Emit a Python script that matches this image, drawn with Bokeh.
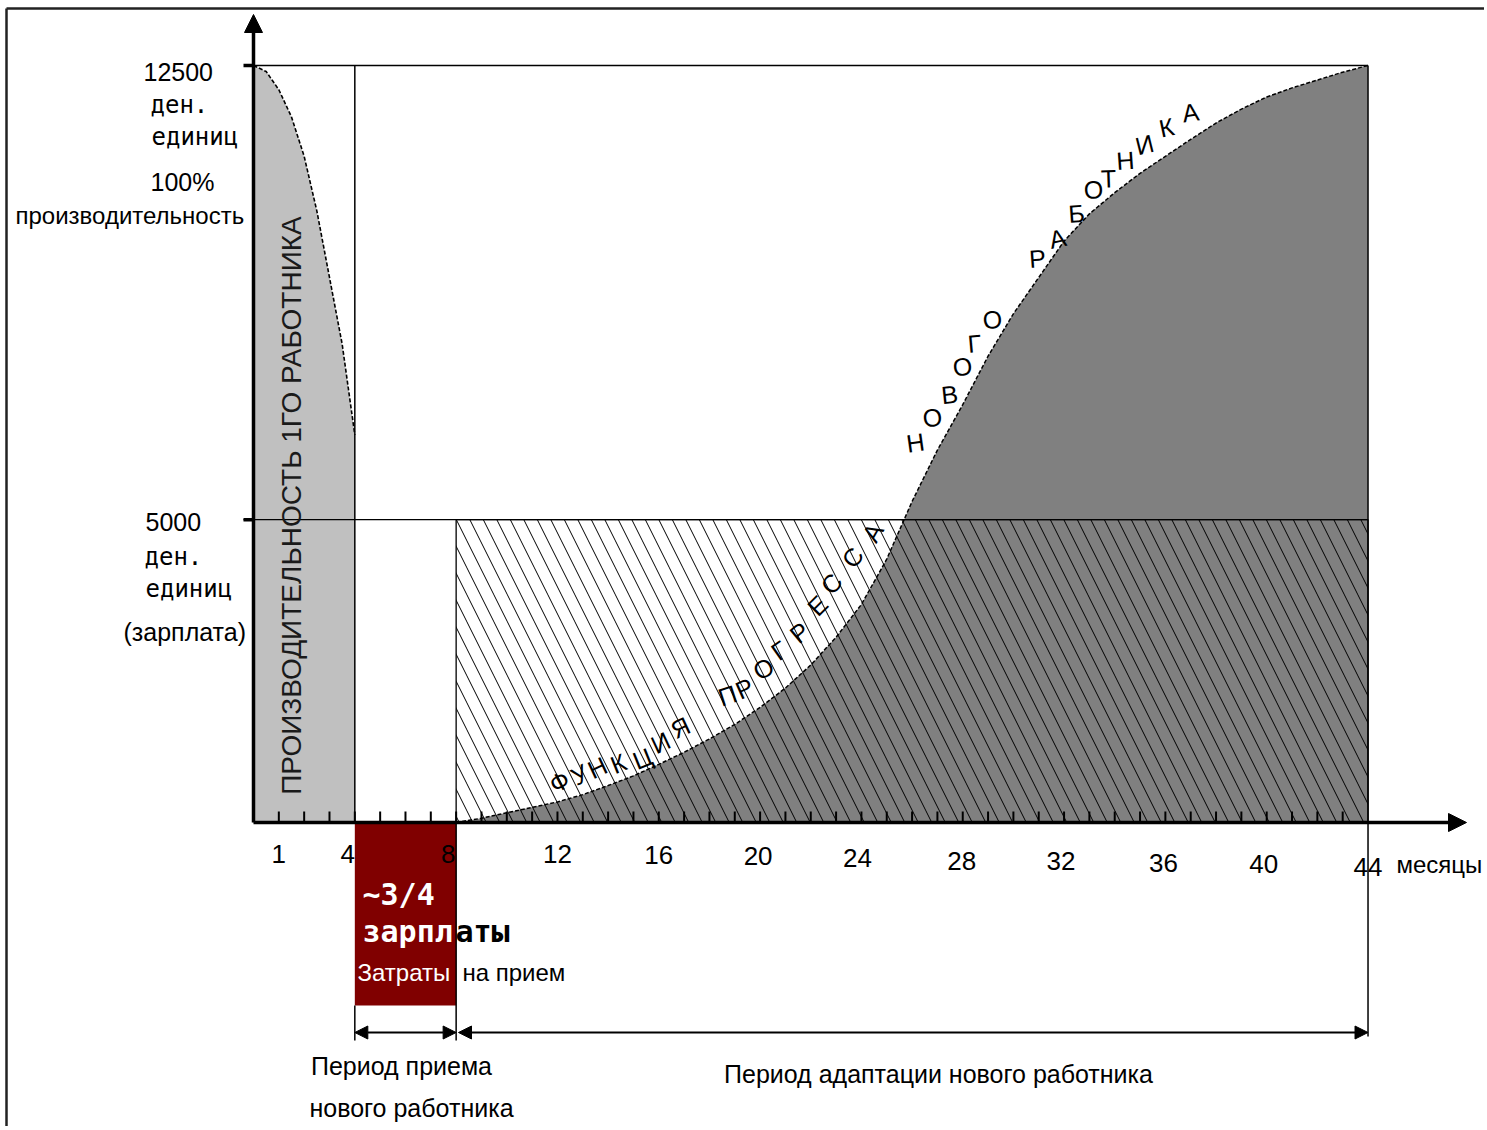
import math
from bokeh.plotting import figure
from bokeh.models import Range1d, Arrow, NormalHead, ColumnDataSource
from bokeh.core.properties import value
from bokeh.embed import file_html
from bokeh.resources import INLINE

# ---------------- data ----------------
SALARY = 5000          # salary level, money units
FULL = 12500           # 100% productivity, money units
first_months = [0, 0.5, 1, 1.5, 2, 2.5, 3, 3.5, 4]
first_output = [12500, 12400, 12100, 11650, 11000, 10100, 9000, 7900, 6400]
new_months = list(range(8, 45))
new_output = [0, 70, 160, 250, 340, 460, 610, 770, 960, 1160, 1380, 1620, 1900,
              2220, 2600, 3060, 3600, 4350, 5300, 6150, 6900, 7700, 8400, 9000,
              9600, 10050, 10400, 10720, 11000, 11280, 11550, 11780, 11980,
              12130, 12260, 12390, 12500]
tick_months = [1, 4, 8, 12, 16, 20, 24, 28, 32, 36, 40, 44]
tick_labels = ["1", "4", "8", "12", "16", "20", "24", "28", "32", "36", "40", "44"]
minor_ticks = list(range(1, 44))
HIRE_START, HIRE_END = 4, 8
ADAPT_START, ADAPT_END = 8, 44
LEVELS = [SALARY, FULL]

# ---------------- layout helpers (reference pixels -> data) ----------------
X0, XS = 253.0, 25.33
Y0, YS = 822.0, 0.06056
def X(px):
    return (px - X0) / XS
def Y(py):
    return (Y0 - py) / YS

W, H = 1484, 1126
SANS = "Liberation Sans"
MONO = "DejaVu Sans Mono"
BASE_FIX = 9   # renderer draws alphabetic baselines a little low

p = figure(width=W, height=H, output_backend="svg", toolbar_location=None,
           x_range=Range1d(X(0), X(W)), y_range=Range1d(Y(H), Y(0)),
           min_border=0, x_axis_location=None, y_axis_location=None)
p.grid.visible = False
p.outline_line_color = None
p.background_fill_color = "white"
p.border_fill_color = "white"

# frame (left and top)
p.line([X(6), X(6)], [Y(H), Y(8)], line_color="#222222", line_width=2.5)
p.line([X(6), X(W)], [Y(8), Y(8)], line_color="#222222", line_width=2.5)

# first worker productivity
p.patch([0] + first_months + [HIRE_START], [0] + first_output + [0],
        fill_color="#c0c0c0", line_color=None)
p.line(first_months, first_output, line_color="black", line_width=1.6, line_dash="4 2")

# new worker progress (dark area) and salary hatch
p.varea(x=new_months, y1=[0] * len(new_months), y2=new_output, fill_color="#808080")
p.quad(left=[ADAPT_START], right=[ADAPT_END], bottom=[0], top=[SALARY],
       fill_color=None, hatch_pattern="\\", hatch_color="black", hatch_scale=27,
       hatch_weight=1, line_color="black", line_width=1.3)
p.line(new_months, new_output, line_color="black", line_width=1.5, line_dash="4 2")

# reference lines
p.line([0, ADAPT_END], [FULL, FULL], line_color="black", line_width=1.3)
p.line([X(243), ADAPT_END], [SALARY, SALARY], line_color="black", line_width=1.3)
p.line([HIRE_START, HIRE_START], [0, FULL], line_color="black", line_width=1.5)
p.line([ADAPT_END, ADAPT_END], [Y(1036), FULL], line_color="black", line_width=1.5)

# hiring cost box
p.quad(left=[HIRE_START], right=[HIRE_END], top=[0], bottom=[Y(1005)],
       fill_color="#800000", line_color=None)
p.line([HIRE_END, HIRE_END], [Y(1040), 0], line_color="black", line_width=1.5)
p.line([HIRE_START, HIRE_START], [Y(1040), Y(1005)], line_color="black", line_width=1.5)

# axes
p.segment(x0=minor_ticks, y0=[0] * len(minor_ticks), x1=minor_ticks,
          y1=[Y(811)] * len(minor_ticks), line_color="black", line_width=2)
p.segment(x0=[X(243)] * 2, y0=LEVELS, x1=[0] * 2, y1=LEVELS, line_color="black", line_width=3.5)
p.add_layout(Arrow(end=NormalHead(size=18, fill_color="black", line_color="black"),
                   x_start=0, y_start=0, x_end=0, y_end=Y(14),
                   line_color="black", line_width=3.5))
p.add_layout(Arrow(end=NormalHead(size=18, fill_color="black", line_color="black"),
                   x_start=0, y_start=0, x_end=X(1466), y_end=0,
                   line_color="black", line_width=3.5))

# period arrows
yarr = Y(1032)
p.add_layout(Arrow(start=NormalHead(size=13, fill_color="black", line_color="black"),
                   end=NormalHead(size=13, fill_color="black", line_color="black"),
                   x_start=HIRE_START, y_start=yarr, x_end=HIRE_END, y_end=yarr,
                   line_color="black", line_width=2))
p.add_layout(Arrow(start=NormalHead(size=13, fill_color="black", line_color="black"),
                   end=NormalHead(size=13, fill_color="black", line_color="black"),
                   x_start=X(458), y_start=yarr, x_end=ADAPT_END, y_end=yarr,
                   line_color="black", line_width=2))

def txt(s, px, py, font=SANS, size=25, align="left", baseline="alphabetic",
        color="black", style="normal", angle=0):
    if baseline == "alphabetic":
        py -= BASE_FIX
    p.text(x=[X(px)], y=[Y(py)], text=[s], text_font=value(font),
           text_font_size=f"{size}px", text_align=align, text_baseline=baseline,
           text_color=color, text_font_style=style, angle=angle)

# x tick labels
lab_dx = [0, -7, -8, 0, 0, -2, -4, -1, -3, -2, -3, 0]
lab_base = [862, 862, 862, 862, 863, 864, 866, 869, 869, 871, 872, 875]
p.text(x=[m + d / XS for m, d in zip(tick_months, lab_dx)],
       y=[Y(b - BASE_FIX) for b in lab_base],
       text=tick_labels, text_font=value(SANS), text_font_size="26px",
       text_align="center", text_baseline="alphabetic", text_color="black")
txt("месяцы", 1396, 873, size=24)

# y labels
txt("12500", 143, 80)
txt("ден.", 150, 113, font=MONO, size=24)
txt("единиц", 151, 145, font=MONO, size=24)
txt("100%", 150, 190)
txt("производительность", 15, 224, size=24)
txt("5000", 145, 530)
txt("ден.", 144, 565, font=MONO, size=24)
txt("единиц", 145, 597, font=MONO, size=24)
txt("(зарплата)", 123, 640)

# box texts
txt("~3/4", 362, 903, font=MONO, size=30, color="white", style="bold")
txt("зарпл", 362, 940, font=MONO, size=30, color="white", style="bold")
txt("аты", 455, 940, font=MONO, size=30, color="black", style="bold")
txt("Затраты", 357, 981, size=24, color="white")
txt("на прием", 462, 981, size=24)

# period texts
txt("Период приема", 401, 1074, align="center")
txt("нового работника", 411, 1116, align="center")
txt("Период адаптации нового работника", 938, 1082, align="center")

# vertical label
txt("ПРОИЗВОДИТЕЛЬНОСТЬ 1ГО РАБОТНИКА", 291, 505, size=28,
    align="center", baseline="middle", color="#1a1a1a", angle=math.pi / 2)

# letters along the progress curve (pixel centre, angle in degrees)
letters = [
    ("Ф", 559, 781, 28), ("У", 579, 774, 28), ("Н", 597, 767, 25), ("К", 618, 763, 22),
    ("Ц", 642, 758, 22), ("И", 660, 742, 25), ("Я", 680, 727, 25),
    ("П", 727, 695, 18), ("Р", 744, 688, 24), ("О", 763, 668, 30), ("Г", 779, 650, 35),
    ("Р", 799, 632, 40), ("Е", 817, 605, 45), ("С", 831, 583, 50), ("С", 852, 557, 54),
    ("А", 872, 532, 60),
    ("Н", 915, 442, 8), ("О", 932, 417, 8), ("В", 949, 394, 6), ("О", 962, 366, 6),
    ("Г", 974, 343, 5), ("О", 992, 319, 5),
    ("Р", 1037, 258, 4), ("А", 1057, 238, 12), ("Б", 1076, 213, 4), ("О", 1093, 189, 3),
    ("Т", 1108, 178, 2), ("Н", 1125, 160, 4), ("И", 1144, 144, 14), ("К", 1166, 127, 12),
    ("А", 1190, 112, 8),
]
src = ColumnDataSource(dict(
    x=[X(l[1]) for l in letters], y=[Y(l[2]) for l in letters],
    text=[l[0] for l in letters], angle=[l[3] for l in letters]))
p.text(x="x", y="y", text="text", angle="angle", angle_units="deg", source=src,
       text_font=value(SANS), text_font_size="25px", text_align="center",
       text_baseline="middle", text_color="black")

open("out.html", "w").write(file_html(p, INLINE))
